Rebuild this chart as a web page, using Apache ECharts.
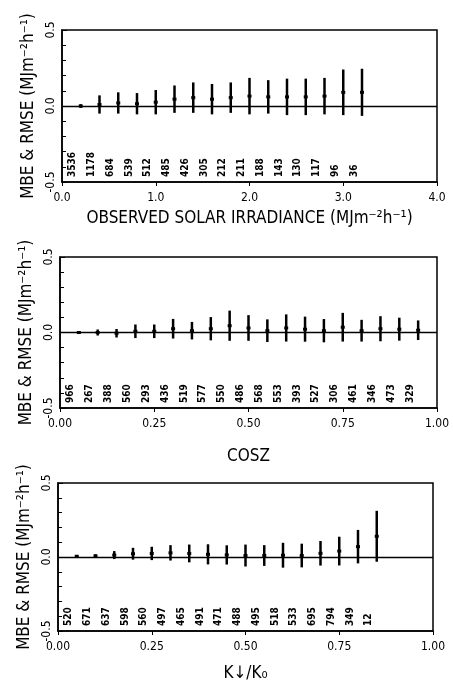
<!DOCTYPE html>
<html>
<head>
<meta charset="utf-8">
<script src="https://cdn.jsdelivr.net/npm/echarts@6/dist/echarts.min.js"></script>
<style>
  html, body { margin: 0; padding: 0; background: #fff; }
  #chart { width: 453px; height: 683px; }
</style>
</head>
<body>
<div id="chart"></div>
<script>
// panel 1: observed solar irradiance bins
const irrX = [0.2, 0.4, 0.6, 0.8, 1.0, 1.2, 1.4, 1.6, 1.8, 2.0, 2.2, 2.4, 2.6, 2.8, 3.0, 3.2]
const irrMbe = [0.00, 0.01, 0.02, 0.015, 0.025, 0.045, 0.055, 0.045, 0.055, 0.065, 0.06, 0.06, 0.06, 0.065, 0.09, 0.09]
const irrRmse = [0.012, 0.06, 0.07, 0.07, 0.08, 0.09, 0.10, 0.10, 0.10, 0.12, 0.11, 0.12, 0.12, 0.12, 0.15, 0.155]
const irrN = [3536, 1178, 684, 539, 512, 485, 426, 305, 212, 211, 188, 143, 130, 117, 96, 36]

// panel 2: cos of zenith angle bins
const coszX = [0.05, 0.10, 0.15, 0.20, 0.25, 0.30, 0.35, 0.40, 0.45, 0.50, 0.55, 0.60, 0.65, 0.70, 0.75, 0.80, 0.85, 0.90, 0.95]
const coszMbe = [0.00, 0.00, -0.005, 0.008, 0.008, 0.025, 0.012, 0.025, 0.045, 0.03, 0.012, 0.03, 0.022, 0.012, 0.035, 0.012, 0.025, 0.022, 0.015]
const coszRmse = [0.01, 0.02, 0.028, 0.045, 0.045, 0.065, 0.058, 0.077, 0.10, 0.085, 0.075, 0.09, 0.083, 0.077, 0.095, 0.072, 0.083, 0.076, 0.065]
const coszN = [966, 267, 388, 560, 293, 436, 519, 577, 550, 486, 568, 553, 393, 527, 306, 461, 346, 473, 329]

// panel 3: clearness index bins
const ktX = [0.05, 0.10, 0.15, 0.20, 0.25, 0.30, 0.35, 0.40, 0.45, 0.50, 0.55, 0.60, 0.65, 0.70, 0.75, 0.80, 0.85]
const ktMbe = [0.005, 0.007, 0.013, 0.022, 0.024, 0.028, 0.024, 0.018, 0.014, 0.01, 0.01, 0.012, 0.01, 0.025, 0.04, 0.07, 0.14]
const ktRmse = [0.005, 0.012, 0.027, 0.04, 0.045, 0.052, 0.06, 0.068, 0.065, 0.074, 0.07, 0.084, 0.08, 0.083, 0.097, 0.113, 0.172]
const ktN = [520, 671, 637, 598, 560, 497, 465, 491, 471, 488, 495, 518, 533, 695, 794, 349, 12]

const yTicks = [-0.5, 0.0, 0.5]
const FONT = 'DejaVu Sans Condensed, Liberation Sans Narrow, DejaVu Sans'
const UNIT = '(MJm⁻²h⁻¹)'

function rows(xs, mbe, rmse, n) {
  return xs.map((x, i) => [x, mbe[i], rmse[i], n[i]])
}

function renderErr(params, api) {
  const x = api.value(0)
  const m = api.value(1)
  const r = api.value(2)
  const hi = api.coord([x, m + r])
  const lo = api.coord([x, m - r])
  const mid = api.coord([x, m])
  const base = api.coord([x, -0.5])
  return {
    type: 'group',
    children: [
      {
        type: 'line',
        shape: { x1: hi[0], y1: hi[1], x2: lo[0], y2: lo[1] },
        style: { stroke: '#000', lineWidth: 2.5 }
      },
      {
        type: 'rect',
        shape: { x: mid[0] - 2, y: mid[1] - 1.5, width: 4, height: 3 },
        style: { fill: '#000' }
      },
      {
        type: 'text',
        x: base[0] - 8,
        y: base[1] - 5,
        rotation: Math.PI / 2,
        style: {
          text: String(api.value(3)),
          align: 'left',
          verticalAlign: 'middle',
          fontSize: 10,
          fontWeight: 'bold',
          fontFamily: FONT,
          fill: '#000'
        }
      }
    ]
  }
}

function yAxisOf(i) {
  return {
    gridIndex: i,
    type: 'value',
    min: yTicks[0],
    max: yTicks[2],
    interval: 0.5,
    name: 'MBE & RMSE ' + UNIT,
    nameLocation: 'middle',
    nameRotate: 90,
    nameGap: 20,
    nameTextStyle: { fontSize: 17, fontFamily: FONT, color: '#000' },
    axisLine: { show: true, lineStyle: { color: '#000', width: 1.5 } },
    axisTick: { inside: true, length: 5, lineStyle: { color: '#000' } },
    minorTick: { show: true, splitNumber: 5, length: 4, lineStyle: { color: '#000' } },
    splitLine: { show: false },
    axisLabel: {
      rotate: 90,
      margin: 5,
      fontSize: 12,
      fontFamily: FONT,
      color: '#000',
      formatter: v => v.toFixed(1)
    }
  }
}

function xAxisOf(i, max, step, digits, name, gap) {
  return {
    gridIndex: i,
    type: 'value',
    min: 0,
    max: max,
    interval: step,
    name: name,
    nameLocation: 'middle',
    nameGap: gap,
    nameTextStyle: { fontSize: 17, fontFamily: FONT, color: '#000' },
    axisLine: { show: true, onZero: false, lineStyle: { color: '#000', width: 1.5 } },
    axisTick: { length: 4, lineStyle: { color: '#000' } },
    splitLine: { show: false },
    axisLabel: {
      margin: 10,
      fontSize: 12,
      fontFamily: FONT,
      color: '#000',
      formatter: v => v.toFixed(digits)
    }
  }
}

function errSeries(i, data) {
  return {
    type: 'custom',
    xAxisIndex: i,
    yAxisIndex: i,
    renderItem: renderErr,
    data: data,
    silent: true,
    markLine: {
      silent: true,
      symbol: 'none',
      label: { show: false },
      lineStyle: { color: '#000', width: 1.3, type: 'solid' },
      data: [{ yAxis: 0 }]
    }
  }
}

const chart = echarts.init(document.getElementById('chart'), null, { renderer: 'canvas' })
const border = { show: true, borderColor: '#000', borderWidth: 1.5, backgroundColor: 'transparent' }

chart.setOption({
  backgroundColor: '#fff',
  animation: false,
  grid: [
    Object.assign({ left: 62, right: 16, top: 30, height: 152 }, border),
    Object.assign({ left: 60, right: 16, top: 257, height: 151 }, border),
    Object.assign({ left: 58, right: 20, top: 483, height: 150 }, border)
  ],
  xAxis: [
    xAxisOf(0, 4, 1, 1, 'OBSERVED SOLAR IRRADIANCE ' + UNIT, 28),
    xAxisOf(1, 1, 0.25, 2, 'COSZ', 40),
    xAxisOf(2, 1, 0.25, 2, 'K↓/K₀', 34)
  ],
  yAxis: [yAxisOf(0), yAxisOf(1), yAxisOf(2)],
  series: [
    errSeries(0, rows(irrX, irrMbe, irrRmse, irrN)),
    errSeries(1, rows(coszX, coszMbe, coszRmse, coszN)),
    errSeries(2, rows(ktX, ktMbe, ktRmse, ktN))
  ]
})

window.addEventListener('resize', () => chart.resize())
</script>
</body>
</html>
